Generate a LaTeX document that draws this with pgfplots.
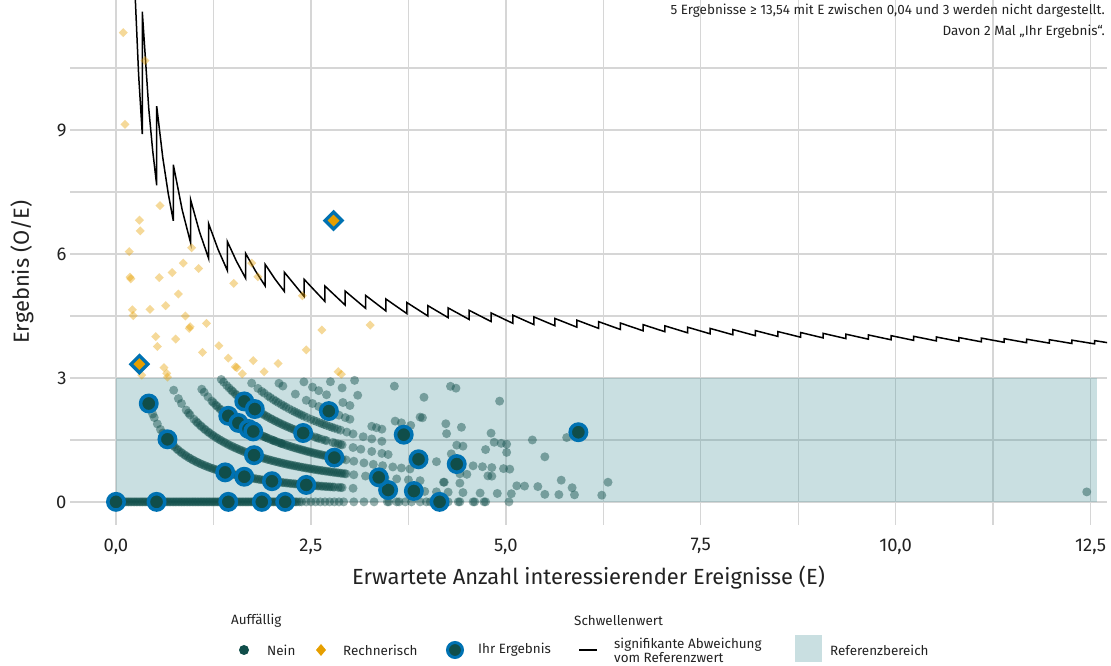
\documentclass[border=0pt]{standalone}
\usepackage{fontspec}
\setmainfont{Fira Sans}
\usepackage{pgfplots}
\pgfplotsset{compat=1.18}

\definecolor{neinc}{RGB}{16,78,74}
\definecolor{orangec}{RGB}{230,159,0}
\definecolor{bluec}{RGB}{0,114,178}
\definecolor{refc}{RGB}{75,148,155}
\definecolor{refsolid}{RGB}{201,223,225}
\definecolor{gridc}{RGB}{214,214,214}
\definecolor{txt}{RGB}{34,34,34}

\pgfplotsset{
  nein/.style={only marks, mark=*, mark size=4.5bp, color=neinc,
    mark options={draw opacity=0, fill=neinc, fill opacity=0.45}},
  rech/.style={only marks, mark=square*, mark size=3.2bp, color=orangec,
    mark options={draw opacity=0, fill=orangec, fill opacity=0.4, rotate=45}},
  ihrc/.style={only marks, mark=*, mark size=8.2bp, color=bluec,
    mark options={draw=bluec, line width=3.5bp, fill=neinc}},
  ihrd/.style={only marks, mark=square*, mark size=6bp, color=bluec,
    mark options={draw=bluec, line width=3.3bp, fill=orangec, rotate=45}},
}

\begin{document}
\begin{tikzpicture}[x=1bp,y=1bp]
\useasboundingbox (0,0) rectangle (1111,666);
\begin{axis}[
  at={(70bp,141bp)}, anchor=south west,
  width=1037bp, height=525bp, scale only axis,
  xmin=-0.59, xmax=12.71, ymin=-0.56, ymax=12.15,
  axis line style={draw=none},
  major tick length=0pt, minor tick length=0pt,
  xtick={0,2.5,5,7.5,10,12.5},
  xticklabels={0{,}0,2{,}5,5{,}0,7{,}5,10{,}0,12{,}5},
  minor xtick={1.25,3.75,6.25,8.75,11.25},
  ytick={0,3,6,9},
  minor ytick={1.5,4.5,7.5,10.5},
  grid=both,
  major grid style={gridc, line width=1.4bp},
  minor grid style={gridc, line width=1.4bp},
  /pgf/number format/assume math mode=true,
  ticklabel style={font=\fontsize{18.5}{20}\selectfont, text=txt},
  xticklabel style={yshift=-10bp},
  yticklabel style={xshift=0bp},
  clip=true,
]
% reference range 0 to 3
\addplot[draw=none, fill=refc, fill opacity=0.3] coordinates {(0,0) (0,3) (12.58,3) (12.58,0)};

% providers without finding, O = 0
\addplot[nein] coordinates {
(0.00,0)(0.04,0)(0.08,0)(0.12,0)(0.16,0)(0.20,0)(0.24,0)(0.28,0)(0.32,0)(0.36,0)
(0.40,0)(0.44,0)(0.48,0)(0.52,0)(0.56,0)(0.60,0)(0.64,0)(0.68,0)(0.72,0)(0.76,0)
(0.80,0)(0.84,0)(0.88,0)(0.92,0)(0.96,0)(1.00,0)(1.04,0)(1.08,0)(1.12,0)(1.16,0)
(1.20,0)(1.24,0)(1.28,0)(1.32,0)(1.36,0)(1.40,0)(1.44,0)(1.48,0)(1.52,0)(1.56,0)
(1.60,0)(1.64,0)(1.68,0)(1.72,0)(1.76,0)(1.80,0)(1.84,0)(1.88,0)(1.92,0)(1.96,0)
(2.00,0)(2.04,0)(2.08,0)(2.12,0)(2.16,0)(2.20,0)(2.24,0)(2.28,0)(2.32,0)(2.38,0)
(2.44,0)(2.50,0)(2.56,0)(2.62,0)(2.68,0)(2.74,0)(2.80,0)(2.86,0)(2.92,0)
(0.02,0)(0.10,0)(0.18,0)(0.26,0)(0.34,0)(0.42,0)(0.50,0)(0.58,0)(0.66,0)(0.74,0)
(0.82,0)(0.90,0)(0.98,0)(1.06,0)(1.14,0)(1.22,0)(1.30,0)(1.38,0)(1.46,0)(1.54,0)
(1.62,0)(1.70,0)(1.78,0)(1.86,0)(1.94,0)(2.02,0)(2.10,0)
(0.06,0)(0.14,0)(0.22,0)(0.30,0)(0.38,0)(0.46,0)(0.54,0)(0.62,0)(0.70,0)(0.78,0)
(0.86,0)(0.94,0)(1.02,0)(1.10,0)(1.18,0)(1.26,0)(1.34,0)(1.42,0)(1.50,0)(1.58,0)
(1.66,0)(1.74,0)(1.82,0)(1.90,0)(1.98,0)(2.06,0)(2.14,0)(2.18,0)(2.22,0)(2.26,0)
(2.30,0)(2.35,0)
(3.05,0)(3.18,0)(3.31,0)(3.48,0)(3.50,0)(3.60,0)(3.63,0)(3.71,0)(3.79,0)(3.90,0)
(3.98,0)(4.03,0)(4.26,0)(4.39,0)(4.41,0)(4.58,0)(4.60,0)(4.72,0)(4.74,0)(5.04,0)
};
% O = 1
\addplot[nein] coordinates {
(0.44,2.273)(0.47,2.128)(0.49,2.041)(0.53,1.887)(0.57,1.754)(0.60,1.667)(0.62,1.613)(0.66,1.515)
(0.70,1.429)(0.75,1.333)(0.80,1.250)(0.85,1.176)(0.90,1.111)(0.95,1.053)(1.00,1.000)
(1.05,0.952)(1.10,0.909)(1.15,0.870)(1.20,0.833)(1.25,0.800)(1.30,0.769)(1.35,0.741)
(1.40,0.714)(1.45,0.690)(1.50,0.667)(1.55,0.645)(1.60,0.625)(1.65,0.606)(1.70,0.588)
(1.75,0.571)(1.80,0.556)(1.85,0.541)(1.90,0.526)(1.95,0.513)(2.00,0.500)(2.05,0.488)
(2.10,0.476)(2.15,0.465)(2.20,0.455)(2.25,0.444)(2.30,0.435)(2.35,0.426)(2.40,0.417)
(2.45,0.408)(2.50,0.400)(2.55,0.392)(2.60,0.385)(2.65,0.377)(2.70,0.370)(2.75,0.364)
(2.80,0.357)(2.85,0.351)(2.90,0.345)
(0.73,1.370)(0.83,1.205)(0.93,1.075)(1.03,0.971)(1.13,0.885)(1.23,0.813)(1.33,0.752)
(1.43,0.699)(1.53,0.654)(1.63,0.613)(1.73,0.578)(1.83,0.546)(1.93,0.518)(2.03,0.493)
(2.13,0.469)(2.23,0.448)(2.33,0.429)(2.43,0.412)(2.53,0.395)(2.63,0.380)(2.73,0.366)
(0.68,1.471)(0.78,1.282)(0.88,1.136)(0.98,1.020)(1.08,0.926)(1.18,0.847)(1.28,0.781)
(1.38,0.725)(1.48,0.676)(1.58,0.633)(1.68,0.595)(1.78,0.562)(1.88,0.532)(1.98,0.505)
(2.08,0.481)(2.18,0.459)(2.28,0.439)(2.38,0.420)(2.48,0.403)(2.58,0.388)(2.68,0.373)
(2.78,0.360)(2.88,0.347)
(3.04,0.329)(3.50,0.286)(3.79,0.264)(3.96,0.253)(4.11,0.243)(4.26,0.235)(4.45,0.225)
(4.67,0.214)(4.89,0.204)(5.07,0.197)(5.50,0.182)(5.68,0.176)(5.88,0.170)(6.23,0.161)
};
% O = 2
\addplot[nein] coordinates {
(0.74,2.703)(0.80,2.500)(0.84,2.381)(0.90,2.222)(0.95,2.105)(1.00,2.000)(1.05,1.905)
(1.10,1.818)(1.15,1.739)(1.20,1.667)(1.25,1.600)(1.30,1.538)(1.35,1.481)(1.40,1.429)
(1.45,1.379)(1.50,1.333)(1.55,1.290)(1.60,1.250)(1.65,1.212)(1.70,1.176)(1.75,1.143)
(1.80,1.111)(1.85,1.081)(1.90,1.053)(1.95,1.026)(2.00,1.000)(2.05,0.976)(2.10,0.952)
(2.15,0.930)(2.20,0.909)(2.25,0.889)(2.30,0.870)(2.35,0.851)(2.40,0.833)(2.45,0.816)
(2.50,0.800)(2.55,0.784)(2.60,0.769)(2.65,0.755)(2.70,0.741)(2.75,0.727)(2.80,0.714)
(2.85,0.702)(2.90,0.690)(2.95,0.678)
(1.08,1.852)(1.18,1.695)(1.28,1.563)(1.38,1.449)(1.48,1.351)(1.58,1.266)(1.68,1.190)
(1.78,1.124)(1.88,1.064)(1.98,1.010)(2.08,0.962)(2.18,0.917)(2.28,0.877)(2.38,0.840)
(0.93,2.151)(1.03,1.942)(1.13,1.770)(1.23,1.626)(1.33,1.504)(1.43,1.399)(1.53,1.307)
(1.63,1.227)(1.73,1.156)(1.83,1.093)(1.93,1.036)(2.03,0.985)(2.13,0.939)(2.23,0.897)
(2.33,0.858)(2.43,0.823)(2.53,0.791)(2.63,0.760)(2.73,0.733)(2.83,0.707)(2.93,0.683)
(2.48,0.806)(2.58,0.775)(2.68,0.746)(2.78,0.719)(2.88,0.694)
(3.05,0.656)(3.20,0.625)(3.32,0.602)(3.45,0.580)(3.60,0.556)(3.75,0.533)(3.90,0.513)
(4.20,0.476)(4.21,0.475)(4.41,0.454)(5.14,0.389)(5.24,0.382)(5.41,0.370)(5.85,0.342)
};
% O = 3
\addplot[nein] coordinates {
(1.10,2.727)(1.13,2.655)(1.18,2.542)(1.25,2.400)(1.30,2.308)(1.35,2.222)(1.40,2.143)
(1.45,2.069)(1.50,2.000)(1.55,1.935)(1.60,1.875)(1.65,1.818)(1.70,1.765)(1.75,1.714)
(1.80,1.667)(1.85,1.622)(1.90,1.579)(1.95,1.538)(2.00,1.500)(2.05,1.463)(2.10,1.429)
(2.15,1.395)(2.20,1.364)(2.25,1.333)(2.30,1.304)(2.35,1.277)(2.40,1.250)(2.45,1.224)
(2.50,1.200)(2.55,1.176)(2.60,1.154)(2.65,1.132)(2.70,1.111)(2.75,1.091)(2.80,1.071)
(2.85,1.053)(2.90,1.034)(2.95,1.017)
(1.52,1.974)(1.62,1.852)(1.72,1.744)(1.82,1.648)(1.92,1.563)(2.02,1.485)(2.12,1.415)
(1.23,2.439)(1.33,2.256)(1.43,2.098)(1.53,1.961)(1.63,1.840)(1.73,1.734)(1.83,1.639)
(1.93,1.554)(2.03,1.478)(2.13,1.408)(2.23,1.345)(2.33,1.288)(2.43,1.235)(2.53,1.186)
(2.63,1.141)(2.73,1.099)(2.83,1.060)
(1.28,2.344)(1.38,2.174)(1.48,2.027)(1.58,1.899)(1.68,1.786)(1.78,1.685)(1.88,1.596)
(1.98,1.515)(2.08,1.442)(2.18,1.376)(2.28,1.316)(2.38,1.261)(2.48,1.210)(2.58,1.163)
(2.68,1.119)(2.78,1.079)(2.88,1.042)
(3.05,0.984)(3.18,0.943)(3.30,0.909)(3.42,0.877)(3.55,0.845)(3.66,0.820)(3.77,0.796)
(4.41,0.680)(4.50,0.667)(4.77,0.629)(4.82,0.622)(5.71,0.525)(6.31,0.475)(12.45,0.241)
};
% O = 4
\addplot[nein] coordinates {
(1.35,2.963)(1.38,2.899)(1.42,2.817)(1.45,2.759)(1.50,2.667)(1.55,2.581)(1.60,2.500)
(1.70,2.353)(1.75,2.286)(1.85,2.162)(1.90,2.105)(1.95,2.051)(2.00,2.000)(2.05,1.951)
(2.10,1.905)(2.15,1.860)(2.20,1.818)(2.25,1.778)(2.30,1.739)(2.35,1.702)(2.45,1.633)
(2.50,1.600)(2.55,1.569)(2.60,1.538)(2.64,1.515)(2.70,1.481)(2.81,1.423)(2.85,1.404)(2.90,1.379)
(1.53,2.614)(1.63,2.454)(1.73,2.312)(1.83,2.186)(1.93,2.073)(2.03,1.970)(2.13,1.878)
(2.23,1.794)(2.33,1.717)(2.43,1.646)
(1.48,2.703)(1.58,2.532)(1.68,2.381)(1.78,2.247)(1.88,2.128)(1.98,2.020)(2.08,1.923)
(2.18,1.835)(2.28,1.754)(2.38,1.681)(2.48,1.613)(2.58,1.550)(2.68,1.493)(2.78,1.439)
(2.88,1.389)(1.65,2.424)(1.80,2.222)(2.40,1.667)
(3.04,1.316)(3.14,1.274)(3.28,1.220)(3.41,1.173)(3.49,1.146)(3.83,1.044)(4.11,0.973)
(4.30,0.930)(4.58,0.873)(4.70,0.851)(4.82,0.830)(4.97,0.805)(5.05,0.792)
};
% O = 5 and above
\addplot[nein] coordinates {
(1.74,2.874)(1.82,2.747)(1.87,2.674)(1.95,2.564)(2.02,2.475)(2.08,2.404)(2.15,2.326)
(2.22,2.252)(2.29,2.183)(2.35,2.128)(2.41,2.075)(2.50,2.000)(2.57,1.946)(2.64,1.894)
(2.70,1.852)(2.77,1.805)(2.84,1.761)(2.88,1.736)(2.96,1.689)(3.04,1.645)(3.17,1.577)
(3.28,1.524)(3.41,1.466)(4.30,1.163)
(1.90,2.632)(1.98,2.525)(2.05,2.439)(2.12,2.358)(2.18,2.294)(2.26,2.212)(2.32,2.155)
(2.38,2.101)(2.45,2.041)(2.54,1.969)(2.61,1.916)(2.67,1.873)(2.74,1.825)(2.80,1.786)
(2.09,2.871)(2.14,2.804)(2.30,2.609)(2.44,2.459)(2.52,2.381)(2.60,2.308)(2.66,2.256)
(2.86,2.098)(2.94,2.041)(3.00,2.000)(3.28,1.829)(3.34,1.796)(3.41,1.760)(4.37,1.373)
(4.45,1.348)(4.74,1.266)(5.01,1.198)(5.50,1.091)
(2.41,2.905)(2.52,2.778)(2.60,2.692)(2.70,2.593)(2.91,2.405)(3.00,2.333)(3.58,1.955)
(3.66,1.913)(3.78,1.852)(4.24,1.651)(4.85,1.443)(4.94,1.417)(5.01,1.397)
(2.75,2.909)(2.90,2.759)(3.10,2.581)(3.90,2.051)(3.93,2.036)(4.23,1.891)(4.43,1.806)
(4.81,1.663)(5.34,1.498)
(3.06,2.941)(5.78,1.557)(3.57,2.801)(3.95,2.532)(4.29,2.797)(4.36,2.752)(4.92,2.439)
};

% above the reference range, not significant
\addplot[rech] coordinates {
(0.094,11.36)(0.372,10.68)(0.115,9.14)(0.564,7.17)(0.30,6.82)(0.31,6.56)(0.17,6.06)
(0.97,6.15)(0.863,5.78)(1.06,5.65)(0.18,5.44)(0.19,5.40)(0.555,5.43)(0.72,5.55)
(0.80,5.03)(1.74,5.78)(1.82,5.45)(1.51,5.29)(2.39,4.99)(0.21,4.65)(0.22,4.51)
(0.436,4.66)(0.637,4.75)(0.89,4.50)(0.95,4.24)(0.94,4.20)(1.16,4.32)(0.51,4.00)
(0.53,3.76)(0.765,3.94)(1.11,3.62)(1.32,3.78)(1.44,3.48)(1.53,3.27)(1.55,3.25)
(1.62,3.10)(1.76,3.42)(1.90,3.15)(2.08,3.35)(2.44,3.68)(2.64,4.16)(2.85,3.15)
(2.89,3.09)(0.615,3.25)(0.65,3.11)(0.66,3.02)(0.33,3.07)(3.26,4.28)
};

% threshold for a significant deviation from the reference value
\addplot[black, line width=1.5bp] coordinates {
(0.24,12.500)(0.29,10.345)(0.337,8.902)(0.337,11.869)
(0.42,9.524)(0.47,8.511)(0.522,7.663)(0.522,9.579)
(0.60,8.333)(0.67,7.463)(0.735,6.803)(0.735,8.163)
(0.85,7.059)(0.958,6.263)(0.958,7.307)
(1.07,6.542)(1.188,5.892)(1.188,6.734)
(1.31,6.107)(1.427,5.606)(1.427,6.307)
(1.545,5.825)(1.663,5.412)(1.663,6.013)
(1.79,5.587)(1.914,5.225)(1.914,5.747)
(2.04,5.392)(2.158,5.097)(2.158,5.561)
(2.414,4.971)(2.414,5.385)
(2.68,4.851)(2.68,5.224)
(2.94,4.762)(2.94,5.102)
(3.20,4.688)(3.20,5.000)
(3.46,4.624)(3.46,4.913)
(3.73,4.558)(3.73,4.826)
(4.00,4.500)(4.00,4.750)
(4.26,4.460)(4.26,4.695)
(4.53,4.415)(4.53,4.636)
(4.81,4.366)(4.81,4.574)
(5.09,4.322)(5.09,4.519)
(5.36,4.291)(5.36,4.478)
(5.63,4.263)(5.63,4.440)
(5.91,4.230)(5.91,4.399)
(6.19,4.200)(6.19,4.362)
(6.47,4.173)(6.47,4.328)
(6.76,4.142)(6.76,4.290)
(7.04,4.119)(7.04,4.261)
(7.33,4.093)(7.33,4.229)
(7.62,4.068)(7.62,4.199)
(7.91,4.046)(7.91,4.172)
(8.20,4.024)(8.20,4.146)
(8.49,4.005)(8.49,4.122)
(8.78,3.986)(8.78,4.100)
(9.07,3.969)(9.07,4.079)
(9.36,3.953)(9.36,4.060)
(9.65,3.938)(9.65,4.041)
(9.94,3.924)(9.94,4.024)
(10.23,3.910)(10.23,4.008)
(10.52,3.897)(10.52,3.992)
(10.81,3.885)(10.81,3.978)
(11.10,3.874)(11.10,3.964)
(11.39,3.863)(11.39,3.951)
(11.68,3.853)(11.68,3.938)
(11.97,3.843)(11.97,3.926)
(12.26,3.834)(12.26,3.915)
(12.55,3.825)(12.55,3.904)
(12.80,3.828)
};

% own results
\addplot[ihrc] coordinates {
(0,0)(0.52,0)(1.44,0)(1.87,0)(2.17,0)(4.15,0)
(0.42,2.381)(0.66,1.515)(1.40,0.714)(1.645,0.608)(2.00,0.500)(2.44,0.410)(3.49,0.287)(3.82,0.262)
(1.77,1.130)(3.37,0.593)
(1.44,2.083)(1.57,1.911)(1.70,1.765)(1.76,1.705)(2.80,1.071)
(1.645,2.432)(1.78,2.247)(2.40,1.667)(3.88,1.031)(4.37,0.915)
(2.73,2.198)(3.69,1.626)
(5.93,1.686)
};
\addplot[ihrd] coordinates {(0.30,3.333)(2.79,6.810)};
\end{axis}

% axis titles
\node[font=\fontsize{22}{24}\selectfont, text=txt] at (588.5,88) {Erwartete Anzahl interessierender Ereignisse (E)};
\node[font=\fontsize{22}{24}\selectfont, text=txt, rotate=90] at (22,394) {Ergebnis (O/E)};

% note on omitted results
\node[font=\fontsize{13.5}{21}\selectfont, text=txt, anchor=north east, align=right, inner sep=0pt]
  at (1105,662) {5 Ergebnisse ≥ 13,54 mit E zwischen 0,04 und 3 werden nicht dargestellt.\\Davon 2 Mal „Ihr Ergebnis“.};

% legend
\begin{scope}[every node/.style={font=\fontsize{13.5}{15}\selectfont, text=txt, anchor=west, inner sep=0pt}]
\node at (231,45) {Auffällig};
\fill[neinc] (244,16) circle (5);
\node at (267,16) {Nein};
\fill[orangec] (321,22) -- (326,16) -- (321,10) -- (316,16) -- cycle;
\node at (343,16) {Rechnerisch};
\draw[bluec, line width=3bp, fill=neinc] (455,16) circle (7.5);
\node at (478,16) {Ihr Ergebnis};
\node at (574,45) {Schwellenwert};
\draw[black, line width=1.5bp] (579,16) -- (597,16);
\node[align=left, font=\fontsize{13.5}{14}\selectfont] at (614,16) {signifikante Abweichung\\vom Referenzwert};
\fill[refsolid] (795,4) rectangle (822,31);
\node at (830,16) {Referenzbereich};
\end{scope}
\end{tikzpicture}
\end{document}
